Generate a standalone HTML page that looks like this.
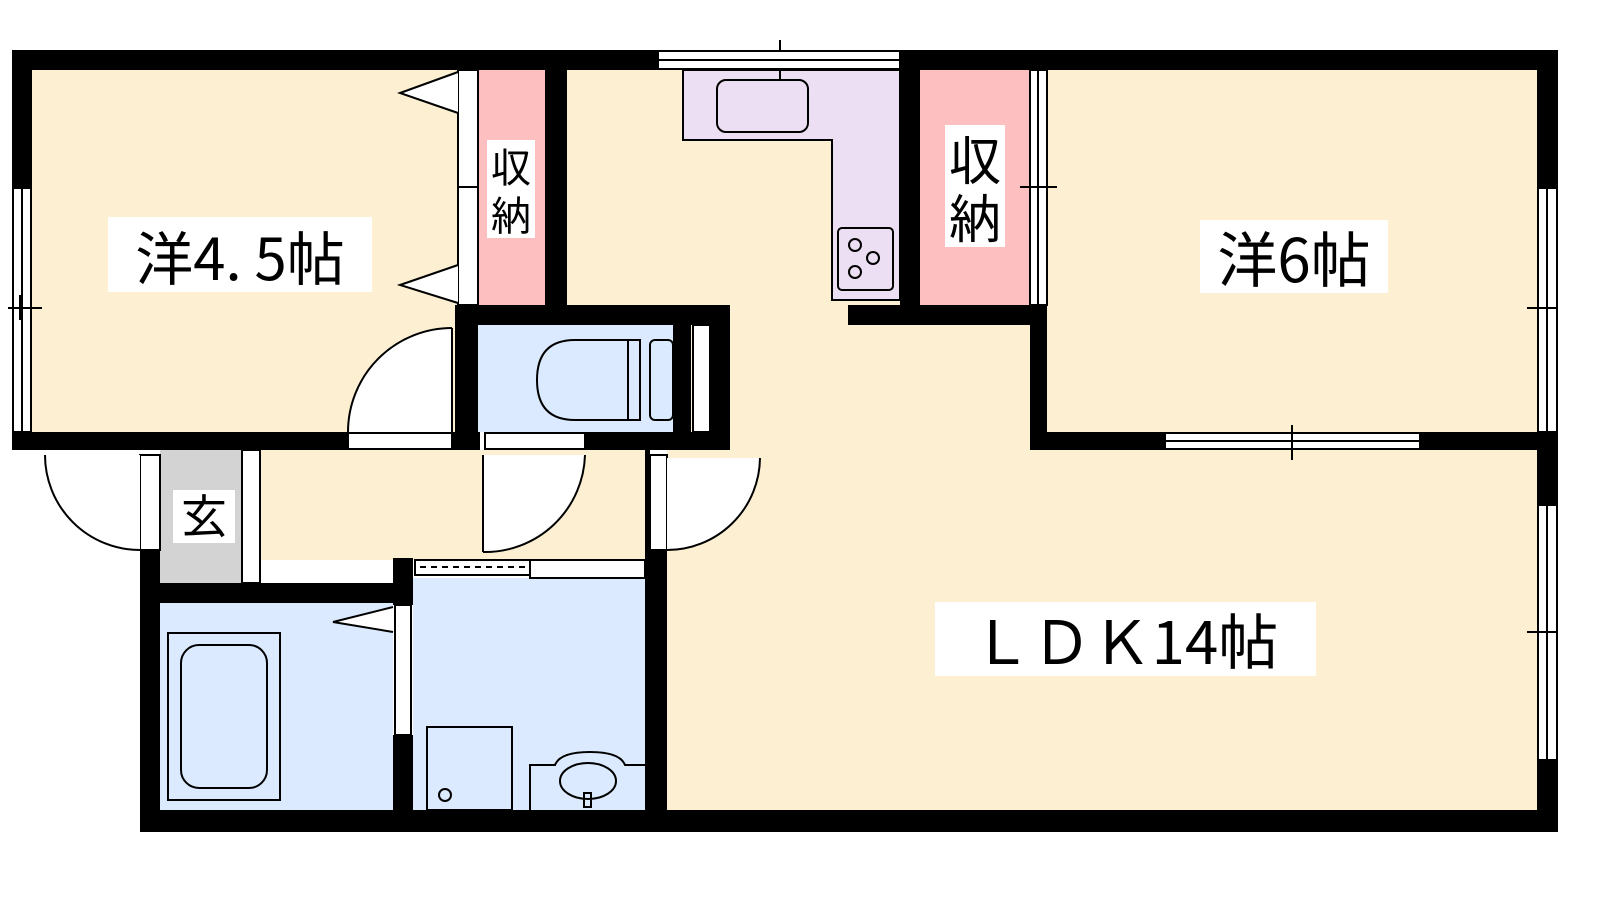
<!DOCTYPE html>
<html><head><meta charset="utf-8"><style>
html,body{margin:0;padding:0;background:#fff;width:1600px;height:900px;overflow:hidden}
text{font-family:"Noto Sans CJK JP","Liberation Sans",sans-serif;fill:#000}
</style></head><body>
<svg width="1600" height="900" viewBox="0 0 1600 900" xmlns="http://www.w3.org/2000/svg">
<rect width="1600" height="900" fill="#fff"/>
<rect x="32" y="70" width="426" height="362" fill="#fdf0d2"/>
<rect x="567" y="70" width="463" height="380" fill="#fdf0d2"/>
<rect x="1047" y="70" width="490" height="362" fill="#fdf0d2"/>
<rect x="667" y="432" width="870" height="378" fill="#fdf0d2"/>
<rect x="260" y="450" width="390" height="110" fill="#fdf0d2"/>
<rect x="160" y="450" width="82" height="133" fill="#d3d3d3"/>
<rect x="242" y="450" width="18" height="133" fill="#fff" stroke="#000" stroke-width="2"/>
<rect x="478" y="70" width="67" height="235" fill="#fdbfbf"/>
<rect x="920" y="70" width="110" height="235" fill="#fdbfbf"/>
<rect x="478" y="325" width="195" height="107" fill="#dbeafe"/>
<rect x="160" y="603" width="233" height="207" fill="#dbeafe"/>
<rect x="413" y="578" width="232" height="232" fill="#dbeafe"/>
<path d="M683 70 H900 V300 H832 V140 H683 Z" fill="#eddff3" stroke="#000" stroke-width="2"/>
<rect x="717" y="80" width="91" height="52" rx="9" fill="#eddff3" stroke="#000" stroke-width="2"/>
<line x1="780" y1="40" x2="780" y2="80" stroke="#000" stroke-width="2"/>
<rect x="838" y="228" width="55" height="62" rx="4" fill="#eddff3" stroke="#000" stroke-width="2"/>
<g fill="none" stroke="#000" stroke-width="2"><circle cx="855" cy="245" r="6"/><circle cx="873" cy="258" r="6"/><circle cx="855" cy="272" r="6"/></g>
<g fill="#000">
<rect x="12" y="50" width="646" height="20"/>
<rect x="900" y="50" width="658" height="20"/>
<rect x="12" y="50" width="20" height="138"/>
<rect x="12" y="432" width="336" height="18"/>
<rect x="452" y="432" width="28" height="18"/>
<rect x="585" y="432" width="145" height="18"/>
<rect x="545" y="70" width="22" height="235"/>
<rect x="455" y="305" width="275" height="20"/>
<rect x="455" y="305" width="23" height="145"/>
<rect x="673" y="325" width="18" height="107"/>
<rect x="710" y="305" width="20" height="145"/>
<rect x="900" y="50" width="20" height="255"/>
<rect x="848" y="305" width="199" height="20"/>
<rect x="1030" y="305" width="17" height="145"/>
<rect x="1030" y="432" width="135" height="18"/>
<rect x="1420" y="432" width="138" height="18"/>
<rect x="1537" y="50" width="21" height="138"/>
<rect x="1537" y="432" width="21" height="73"/>
<rect x="1537" y="760" width="21" height="72"/>
<rect x="140" y="810" width="1418" height="22"/>
<rect x="140" y="550" width="20" height="282"/>
<rect x="140" y="583" width="273" height="20"/>
<rect x="393" y="558" width="20" height="47"/>
<rect x="393" y="735" width="20" height="75"/>
<rect x="645" y="550" width="22" height="260"/>
<rect x="645" y="450" width="5" height="100"/>
</g>
<g fill="#fff" stroke="#000" stroke-width="2">
<rect x="658" y="51" width="242" height="18"/>
<rect x="13" y="188" width="18" height="244"/>
<rect x="1538" y="188" width="19" height="244"/>
<rect x="1538" y="505" width="19" height="255"/>
<rect x="1165" y="433" width="255" height="16"/>
<rect x="1030" y="70" width="17" height="235"/>
<rect x="458" y="70" width="20" height="235"/>
<rect x="693" y="325" width="17" height="107"/>
<rect x="348" y="433" width="104" height="16"/>
<rect x="485" y="433" width="100" height="16"/>
<rect x="395" y="605" width="16" height="130"/>
<rect x="415" y="560" width="115" height="15"/>
<rect x="530" y="560" width="115" height="18"/>
<rect x="140" y="455" width="20" height="95"/>
<rect x="650" y="455" width="17" height="95"/>
</g>
<!-- door pies -->
<g fill="#fff" stroke="none">
<path d="M452 432 L452 328 A104 104 0 0 0 348 432 Z"/>
<path d="M483 455 L483 552 A100 100 0 0 0 585 455 Z"/>
<path d="M140 455 L140 550 A95 95 0 0 1 45 455 Z"/>
<path d="M667 458 L667 550 A93 93 0 0 0 760 458 Z"/>
</g>
<g stroke="#000" stroke-width="2" fill="none">
<line x1="658" y1="60" x2="900" y2="60"/><line x1="22" y1="188" x2="22" y2="432"/>
<line x1="1547" y1="188" x2="1547" y2="432"/><line x1="1547" y1="505" x2="1547" y2="760"/>
<line x1="1165" y1="441" x2="1420" y2="441"/><line x1="1038" y1="70" x2="1038" y2="305"/>
<line x1="458" y1="187" x2="478" y2="187"/>
<line x1="8" y1="308" x2="42" y2="308"/><line x1="20" y1="295" x2="20" y2="320"/>
<line x1="1527" y1="308" x2="1558" y2="308"/><line x1="1547" y1="296" x2="1547" y2="320"/>
<line x1="1527" y1="632" x2="1558" y2="632"/><line x1="1547" y1="620" x2="1547" y2="645"/>
<line x1="1292" y1="425" x2="1292" y2="460"/><line x1="1280" y1="441" x2="1305" y2="441"/>
<line x1="1020" y1="187" x2="1057" y2="187"/><line x1="1038" y1="175" x2="1038" y2="198"/>
<line x1="420" y1="567" x2="528" y2="567" stroke-dasharray="6,5"/>
<path d="M452 328 A104 104 0 0 0 348 432"/><line x1="452" y1="328" x2="452" y2="432"/>
<path d="M483 552 A100 100 0 0 0 585 455"/><line x1="483" y1="455" x2="483" y2="552"/>
<path d="M140 550 A95 95 0 0 1 45 455"/>
<path d="M667 550 A93 93 0 0 0 760 458"/>
<path d="M458 72 L400 93 L458 113" fill="#fff"/>
<path d="M458 265 L400 285 L458 303" fill="#fff"/>
<path d="M393 607 L333 622 L393 632" fill="#fff"/>
<rect x="168" y="633" width="112" height="167"/>
<rect x="181" y="645" width="86" height="143" rx="18"/>
<rect x="427" y="727" width="85" height="83"/>
<circle cx="445" cy="795" r="6"/>
<path d="M530 810 V765 H555 Q560 752 590 752 Q620 752 625 765 H645"/>
<ellipse cx="588" cy="781" rx="28" ry="18"/>
<rect x="584" y="793" width="7" height="14"/>
<path d="M628 340 H575 Q537 340 537 380 Q537 420 575 420 H628 Z"/>
<rect x="628" y="340" width="12" height="80"/><rect x="650" y="340" width="23" height="80" rx="5"/>
</g>
<rect x="108" y="217" width="264" height="75" fill="#fff"/>
<text x="240" y="280" font-size="58" text-anchor="middle">洋4. 5帖</text>
<rect x="487" y="140" width="48" height="98" fill="#fff"/>
<text x="511" y="182" font-size="40" text-anchor="middle">収</text>
<text x="511" y="230" font-size="40" text-anchor="middle">納</text>
<rect x="945" y="125" width="60" height="122" fill="#fff"/>
<text x="975" y="180" font-size="52" text-anchor="middle">収</text>
<text x="975" y="238" font-size="52" text-anchor="middle">納</text>
<rect x="1200" y="220" width="188" height="73" fill="#fff"/>
<text x="1294" y="282" font-size="60" text-anchor="middle">洋6帖</text>
<rect x="935" y="602" width="381" height="74" fill="#fff"/>
<text x="1125" y="664" font-size="60" text-anchor="middle">ＬＤＫ14帖</text>
<rect x="173" y="490" width="62" height="53" fill="#fff"/>
<text x="204" y="533" font-size="46" text-anchor="middle">玄</text>
</svg>
</body></html>
